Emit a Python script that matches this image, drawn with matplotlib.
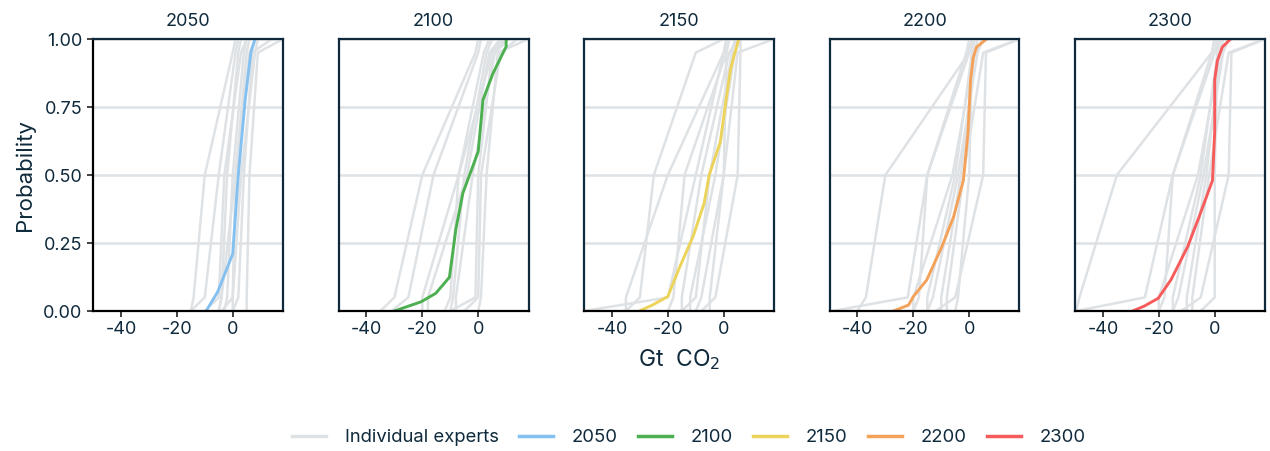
import numpy as np
import matplotlib
matplotlib.use("Agg")
import matplotlib.pyplot as plt
from matplotlib.lines import Line2D

plt.rcParams["font.family"] = ["Inter", "DejaVu Sans"]

# %% data
years = ["2050", "2100", "2150", "2200", "2300"]
colors = ["#85c1f0", "#4caf50", "#ecd35a", "#f4a25a", "#f75c5c"]

# experts give values at these probabilities
expert_probs = [0.0, 0.05, 0.5, 0.95, 1.0]

experts_2050 = [
    [-15, -14, -10, 0, 1],
    [-15, -10, -5, 1, 2],
    [-10, -5, -3, 3, 5],
    [-5, -4, -2, 2, 3],
    [-3, -2, 0, 4, 5],
    [0, 0, 1, 5, 6],
    [-4, 0, 3, 8, 9],
    [5, 5, 6, 9, 18],
    [0, 2, 4, 7, 14],
    [-5, -4, 1, 6, 8],
]
experts_2100 = [
    [-35, -30, -20, -1, 0],
    [-31, -25, -16, 0, 1],
    [-20, -20, -7, 2, 4],
    [-18, -18, -4, 4, 8],
    [-10, -9, -5, 3, 5],
    [-10, -1, 0, 5, 10],
    [-8, -8, -2, 6, 11],
    [-5, 0, 1, 8, 14],
    [0, 1, 3, 7, 18],
    [-12, -10, -7, 5, 9],
]
experts_2150 = [
    [-50, -20, -10, 0, 1],
    [-35, -30, -25, -10, 0],
    [-35, -35, -20, 0, 1],
    [-20, -18, -14, 1, 2],
    [-15, -15, -8, 2, 5],
    [-15, -10, -5, 3, 4],
    [-10, -8, 0, 5, 18],
    [-5, -5, 0, 1, 1],
    [-8, -3, 5, 6, 6],
    [-12, -12, -3, 4, 6],
]
experts_2200 = [
    [-40, -37, -30, 0, 0],
    [-49, -22, -15, 0, 1],
    [-20, -18, -15, -1, 0],
    [-15, -15, -5, 1, 2],
    [-10, -10, -3, 2, 5],
    [-5, -4, 0, 1, 1],
    [-12, -5, 5, 6, 18],
    [-20, -20, -6, 2, 3],
    [-8, -8, -2, 5, 18],
    [-15, -13, -4, 3, 5],
]
experts_2300 = [
    [-49.6, -48.4, -35, -1, 0],
    [-49.6, -25, -15, 0, 1],
    [-20, -18, -15, -1, 0],
    [-15, -15, -5, 1, 2],
    [-10, -10, -3, 2, 5],
    [-5, 0, 0, 1, 1],
    [-12, -5, 5, 6, 18],
    [-20, -20, -6, 2, 3],
    [-8, -8, -2, 5, 18],
    [-15, -13, -4, 3, 5],
]

# aggregated curves
agg_2050_x = [-9.5, -5.4, 0, 2, 4.5, 6.5, 8]
agg_2050_p = [0.0, 0.07, 0.21, 0.5, 0.78, 0.95, 1.0]
agg_2100_x = [-30, -20.4, -15.2, -10.3, -8, -5.5, 0, 1.7, 5.3, 10, 10]
agg_2100_p = [0.0, 0.034, 0.065, 0.124, 0.3, 0.433, 0.586, 0.776, 0.874, 0.972, 1.0]
agg_2150_x = [-30.2, -25.5, -20, -15.7, -11, -7, -5.2, -1.2, 0.5, 2.4, 3.6, 5.4]
agg_2150_p = [0.0, 0.022, 0.053, 0.163, 0.273, 0.396, 0.5, 0.622, 0.751, 0.886, 0.935, 1.0]
agg_2200_x = [-27.1, -21.7, -20, -15.2, -9.8, -5.6, -2.1, -0.4, 0.5, 1.4, 2.6, 6.2]
agg_2200_p = [0.0, 0.022, 0.053, 0.114, 0.236, 0.346, 0.48, 0.66, 0.85, 0.93, 0.97, 1.0]
agg_2300_x = [-29.4, -25.2, -20.2, -15.7, -14.5, -9.7, -5.6, -0.8, 0, 0, 0.95, 2.7, 5.7]
agg_2300_p = [0.0, 0.018, 0.047, 0.114, 0.138, 0.236, 0.346, 0.48, 0.66, 0.85, 0.92, 0.97, 1.0]

experts = [experts_2050, experts_2100, experts_2150, experts_2200, experts_2300]
agg_x = [agg_2050_x, agg_2100_x, agg_2150_x, agg_2200_x, agg_2300_x]
agg_p = [agg_2050_p, agg_2100_p, agg_2150_p, agg_2200_p, agg_2300_p]

xticks = [-40, -20, 0]
yticks = [0.0, 0.25, 0.5, 0.75, 1.0]

# %% plot
navy = "#0f2a3c"
grey = "#dfe2e5"
fig = plt.figure(figsize=(12.7, 4.51), dpi=100)
W, H = 1270, 451
left0, width, step = 93, 190, 245.5
top, bottom = 39, 311

for i, year in enumerate(years):
    ax = fig.add_axes([(left0 + i * step) / W, 1 - bottom / H, width / W, (bottom - top) / H])
    for yv in yticks:
        ax.axhline(yv, color=grey, lw=1.8, zorder=0)
    for e in experts[i]:
        ax.plot(e, expert_probs, color=grey, lw=1.8, zorder=1)
    ax.plot(agg_x[i], agg_p[i], color=colors[i], lw=2.1, zorder=2)
    ax.set_xlim(-50, 18)
    ax.set_ylim(0, 1)
    ax.set_xticks(xticks)
    ax.set_xticklabels([str(t) for t in xticks])
    ax.set_title(year, fontsize=13, color=navy, pad=9)
    for s in ax.spines.values():
        s.set_color(navy)
        s.set_linewidth(1.6)
    ax.spines["bottom"].set_color("black")
    ax.tick_params(axis="x", colors="#333333", labelcolor=navy, labelsize=13,
                   length=4, width=1.3)
    if i == 0:
        ax.spines["left"].set_color("black")
        ax.set_yticks(yticks)
        ax.set_yticklabels(["0.00", "0.25", "0.50", "0.75", "1.00"])
        ax.tick_params(axis="y", colors="#333333", labelcolor=navy, labelsize=13,
                       length=4, width=1.3)
        ax.set_ylabel("Probability", fontsize=16, color=navy, labelpad=6)
    else:
        ax.set_yticks([])
    if i == 2:
        ax.set_xlabel("Gt  CO$_2$", fontsize=16.5, color=navy, labelpad=6)

handles = [Line2D([], [], color=grey, lw=2.5)]
handles += [Line2D([], [], color=c, lw=2.5) for c in colors]
labels = ["Individual experts"] + years
fig.legend(handles, labels, loc="center", bbox_to_anchor=(689 / W, 1 - 438 / H),
           ncol=6, frameon=False, fontsize=13.3, handlelength=1.85,
           handletextpad=1.0, columnspacing=1.1, labelcolor=navy)

fig.savefig("out.png", dpi=100)
